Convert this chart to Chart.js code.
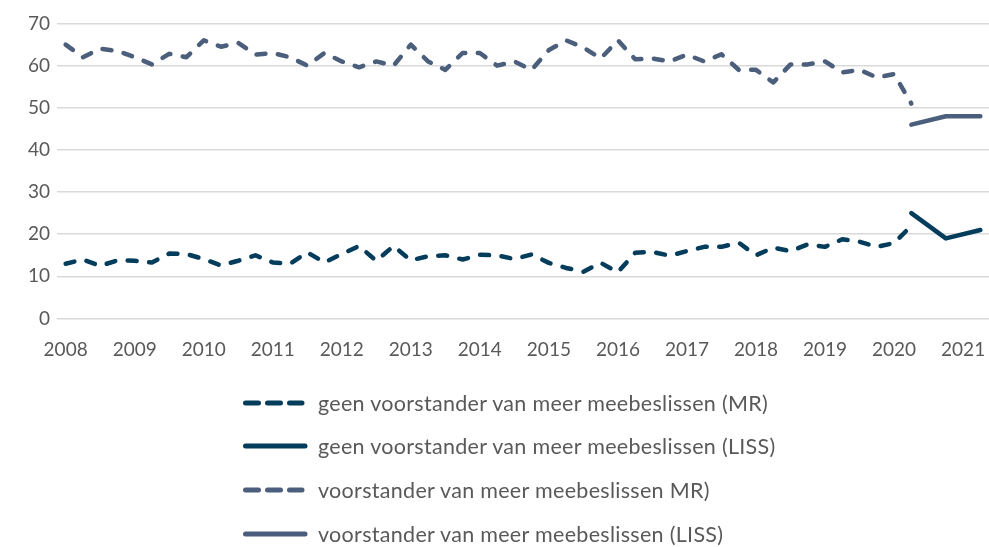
<!DOCTYPE html>
<html>
<head>
<meta charset="utf-8">
<script src="https://cdn.jsdelivr.net/npm/chart.js@4.4.1/dist/chart.umd.min.js"></script>
<style>
body{margin:0;background:#fff;font-family:Lato,sans-serif;}
#wrap{position:relative;width:989px;height:547px;overflow:hidden;}
#box{position:absolute;left:0;top:0;width:989px;height:372px;}
#legend{position:absolute;left:240px;top:381px;}
.item{display:flex;align-items:center;height:43.6px;font-size:21.5px;letter-spacing:0.3px;color:#595959;white-space:nowrap;}
.item canvas{margin-right:10px;}
</style>
</head>
<body>
<div id="wrap">
  <div id="box"><canvas id="chart"></canvas></div>
  <div id="legend"></div>
</div>
<script>
// quarters 2008 K1 .. 2021 K2
const years = [2008,2009,2010,2011,2012,2013,2014,2015,2016,2017,2018,2019,2020,2021];
const quarters = ['K1','K2','K3','K4'];
const labels = [];
years.forEach(y=>quarters.forEach(q=>labels.push(y+' '+q)));
labels.length = 54;

const geenMR = [13,14,12.5,13.8,13.7,13.3,15.4,15.3,14.1,12.6,
  13.7,15,13.3,13,15.7,13.3,15.3,17.2,13.7,17.2,
  13.8,14.8,15,14,15.1,15,14.1,15.2,13.2,12,
  11.1,13.2,11,15.6,15.8,14.9,16,17,17,18,
  15,16.8,16,17.6,17,18.8,18.2,17,17.9,22];
const voorMR = [65,62,64,63.5,62,60.3,62.8,62,66,64.5,
  65.4,62.6,63,62,60,63,61,59.6,61,60,
  65,61,59,63,63,60,61,59,63.7,66,
  64.3,61.7,66,61.5,61.7,61,62.6,61,62.7,59,
  59,56,60.3,60.3,61,58.4,59,57.2,58,51];
// LISS only from 2020 on (half-yearly)
const geenLISS = [...Array(49).fill(null), 25, null, 19, null, 21];
const voorLISS = [...Array(49).fill(null), 46, null, 48, null, 48];

const dark = '#043c5c', slate = '#4b5e7c';
const dash = [9,12.5];

Chart.defaults.font.family = 'Lato';
Chart.defaults.font.size = 19;
Chart.defaults.color = '#595959';

const line = (label,data,color,dashed)=>({
  label, data, borderColor:color, backgroundColor:color,
  borderWidth:4.5, borderDash:dashed?dash:[], borderCapStyle:'round', borderJoinStyle:'round',
  pointRadius:0, tension:0, spanGaps:true, fill:false
});

const chart = new Chart(document.getElementById('chart'), {
  type:'line',
  data:{
    labels,
    datasets:[
      line('geen voorstander van meer meebeslissen (MR)', geenMR, dark, true),
      line('geen voorstander van meer meebeslissen (LISS)', geenLISS, dark, false),
      line('voorstander van meer meebeslissen MR)', voorMR, slate, true),
      line('voorstander van meer meebeslissen (LISS)', voorLISS, slate, false)
    ]
  },
  options:{
    responsive:true, maintainAspectRatio:false, animation:false,
    layout:{padding:{top:23.5,left:0,right:0,bottom:0}},
    plugins:{legend:{display:false}, tooltip:{enabled:false}},
    events:[],
    scales:{
      x:{
        offset:true,
        grid:{display:false, drawTicks:false},
        border:{display:false},
        ticks:{autoSkip:false, maxRotation:0, padding:20,
          callback:(v,i)=> i%4===0 ? labels[i].slice(0,4) : ''},
        afterFit:s=>{s.height = 53.5; s.paddingLeft = 0; s.paddingRight = 0;}
      },
      y:{
        min:0, max:70,
        ticks:{stepSize:10, padding:7},
        grid:{color:'#d9d9d9', lineWidth:1.5, drawTicks:false},
        border:{display:false},
        afterFit:s=>{s.width = 57;}
      }
    }
  }
});

// legend, one entry per row
const legend = document.getElementById('legend');
chart.data.datasets.forEach(ds=>{
  const row = document.createElement('div'); row.className='item';
  const c = document.createElement('canvas'); c.width=68; c.height=12;
  const g = c.getContext('2d');
  g.strokeStyle = ds.borderColor; g.lineWidth = 5; g.lineCap = 'round';
  if(ds.borderDash.length) g.setLineDash([13,9]);
  g.beginPath(); g.moveTo(5.5,6); g.lineTo(ds.borderDash.length?62:65,6); g.stroke();
  const t = document.createElement('span'); t.textContent = ds.label;
  row.appendChild(c); row.appendChild(t);
  legend.appendChild(row);
});
</script>
</body>
</html>
